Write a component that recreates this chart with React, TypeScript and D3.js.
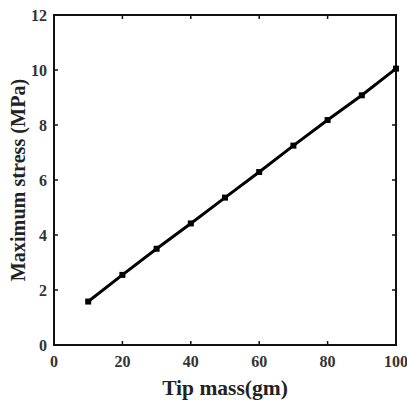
import React from "react";
import * as d3 from "d3";

const tipMass = [10, 20, 30, 40, 50, 60, 70, 80, 90, 100];
const maxStress = [1.58, 2.55, 3.5, 4.42, 5.36, 6.29, 7.25, 8.18, 9.08, 10.05];
const xTicks = [0, 20, 40, 60, 80, 100];
const yTicks = [0, 2, 4, 6, 8, 10, 12];

const W = 407;
const H = 400;
const left = 54;
const right = 396;
const top = 15;
const bottom = 345;
const font = "'Liberation Serif', 'Times New Roman', serif";

export default function App() {
  const x = d3.scaleLinear().domain([0, 100]).range([left, right]);
  const y = d3.scaleLinear().domain([0, 12]).range([bottom, top]);
  const line = d3
    .line<number>()
    .x((_, i) => x(tipMass[i]))
    .y((d) => y(d));
  const tl = 4;

  return (
    <svg
      width={W}
      height={H}
      style={{ position: "absolute", left: 0, top: 0, background: "#fff" }}
    >
      <rect x={0} y={0} width={W} height={H} fill="#fff" />
      {/* inward ticks on all four sides */}
      {xTicks.map((t) => (
        <g key={"x" + t}>
          <line x1={x(t)} x2={x(t)} y1={bottom} y2={bottom - tl} stroke="#111" strokeWidth={1.5} />
          <line x1={x(t)} x2={x(t)} y1={top} y2={top + tl} stroke="#111" strokeWidth={1.5} />
          <text
            x={x(t)}
            y={367}
            textAnchor="middle"
            fontFamily={font}
            fontWeight="bold"
            fontSize={16}
            fill="#333"
          >
            {t}
          </text>
        </g>
      ))}
      {yTicks.map((t) => (
        <g key={"y" + t}>
          <line x1={left} x2={left + tl} y1={y(t)} y2={y(t)} stroke="#111" strokeWidth={1.5} />
          <line x1={right} x2={right - tl} y1={y(t)} y2={y(t)} stroke="#111" strokeWidth={1.5} />
          <text
            x={47}
            y={y(t) + 5.5}
            textAnchor="end"
            fontFamily={font}
            fontWeight="bold"
            fontSize={16}
            fill="#333"
          >
            {t}
          </text>
        </g>
      ))}
      <rect
        x={left}
        y={top}
        width={right - left}
        height={bottom - top}
        fill="none"
        stroke="#111"
        strokeWidth={2}
      />
      <path d={line(maxStress) || ""} fill="none" stroke="#000" strokeWidth={3} />
      {maxStress.map((v, i) => (
        <rect
          key={i}
          x={x(tipMass[i]) - 3}
          y={y(v) - 3}
          width={6}
          height={6}
          fill="#000"
        />
      ))}
      <text
        x={225}
        y={395}
        textAnchor="middle"
        fontFamily={font}
        fontWeight="bold"
        fontSize={21.5}
        fill="#222"
      >
        Tip mass(gm)
      </text>
      <text
        transform={`translate(25, 180) rotate(-90)`}
        textAnchor="middle"
        fontFamily={font}
        fontWeight="bold"
        fontSize={20.2}
        fill="#222"
      >
        Maximum stress (MPa)
      </text>
    </svg>
  );
}
